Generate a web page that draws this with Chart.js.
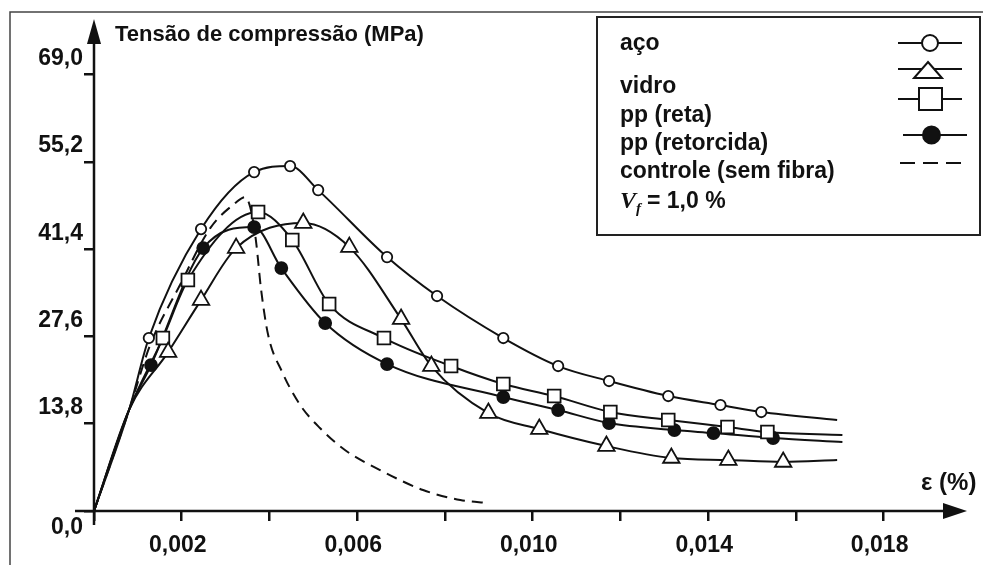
<!DOCTYPE html>
<html>
<head>
<meta charset="utf-8">
<script src="https://cdn.jsdelivr.net/npm/chart.js@4/dist/chart.umd.min.js"></script>
<style>
  html, body { margin: 0; padding: 0; background: #fff; }
  #wrap { width: 983px; height: 565px; position: relative; }
</style>
</head>
<body>
<div id="wrap"><canvas id="c" width="983" height="565"></canvas></div>
<script>
// ---- data: strain ε (%) vs compressive stress (MPa) ----
const seriesLabels = ['aço', 'vidro', 'pp (reta)', 'pp (retorcida)', 'controle (sem fibra)'];

const acoStrain = [0, 0.0008, 0.00125, 0.00244, 0.00365, 0.00447, 0.00511, 0.00668, 0.00782, 0.00933, 0.01058, 0.01174, 0.01309, 0.01428, 0.01521, 0.01694];
const acoStress = [0, 16.0, 27.35, 44.58, 53.59, 54.54, 50.74, 40.15, 33.99, 27.35, 22.92, 20.55, 18.18, 16.76, 15.65, 14.39];
const acoMarked = [0, 0, 1, 1, 1, 1, 1, 1, 1, 1, 1, 1, 1, 1, 1, 0];

const vidroStrain = [0, 0.0008, 0.00169, 0.00244, 0.00324, 0.00477, 0.00582, 0.00700, 0.00769, 0.00899, 0.01015, 0.01168, 0.01316, 0.01446, 0.01571, 0.01694];
const vidroStress = [0, 16.0, 25.13, 33.35, 41.57, 45.53, 41.73, 30.35, 22.92, 15.49, 12.96, 10.27, 8.38, 8.06, 7.75, 8.06];
const vidroMarked = [0, 0, 1, 1, 1, 1, 1, 1, 1, 1, 1, 1, 1, 1, 1, 0];

const retaStrain = [0, 0.0008, 0.00157, 0.00214, 0.00374, 0.00452, 0.00536, 0.00661, 0.00814, 0.00933, 0.01049, 0.01177, 0.01309, 0.01444, 0.01535, 0.01706];
const retaStress = [0, 16.0, 27.35, 36.52, 47.27, 42.84, 32.72, 27.35, 22.92, 20.08, 18.18, 15.65, 14.39, 13.28, 12.49, 12.01];
const retaMarked = [0, 0, 1, 1, 1, 1, 1, 1, 1, 1, 1, 1, 1, 1, 1, 0];

const retorcidaStrain = [0, 0.0008, 0.00130, 0.00249, 0.00365, 0.00427, 0.00527, 0.00668, 0.00933, 0.01058, 0.01174, 0.01323, 0.01412, 0.01548, 0.01706];
const retorcidaStress = [0, 16.0, 23.08, 41.57, 44.89, 38.41, 29.72, 23.24, 18.02, 15.97, 13.91, 12.80, 12.33, 11.54, 10.91];
const retorcidaMarked = [0, 0, 1, 1, 1, 1, 1, 1, 1, 1, 1, 1, 1, 1, 0];

const controleStrain = [0, 0.0008, 0.00128, 0.00196, 0.00265, 0.00322, 0.00344, 0.00356, 0.00369, 0.00381, 0.00397, 0.00429, 0.00470, 0.00515, 0.00572, 0.00652, 0.00750, 0.00835, 0.00899];
const controleStress = [0, 16.0, 26.24, 35.73, 44.74, 48.69, 49.64, 48.06, 42.84, 34.94, 27.82, 21.97, 16.76, 13.12, 9.64, 6.48, 3.32, 1.74, 1.26];

// ---- axis ticks ----
const xTickValues = [0, 0.002, 0.004, 0.006, 0.008, 0.010, 0.012, 0.014, 0.016, 0.018];
const xTickLabels = ['', '0,002', '', '0,006', '', '0,010', '', '0,014', '', '0,018'];
const yTickValues = [0, 13.8, 27.6, 41.4, 55.2, 69.0];
const yTickLabels = ['0,0', '13,8', '27,6', '41,4', '55,2', '69,0'];
const yAxisTitle = 'Tensão de compressão (MPa)';
const xAxisTitle = 'ε (%)';
const fiberNote = ['V', 'f', '= 1,0 %'];

// ---- helpers ----
const FAM = '"Liberation Sans", Arial, Helvetica, sans-serif';
const INK = '#111';
function pts(xs, ys) { return xs.map((x, i) => ({ x: x, y: ys[i] })); }
function radiusFrom(marked, r) { return (c) => (marked[c.dataIndex] ? r : 0); }

const baseDs = {
  borderColor: INK, borderWidth: 2, fill: false,
  cubicInterpolationMode: 'monotone',
  pointBorderColor: INK, pointBorderWidth: 1.8,
  pointHoverRadius: 0
};

const datasets = [
  Object.assign({}, baseDs, { label: seriesLabels[0], data: pts(acoStrain, acoStress),
    pointStyle: 'circle', pointRadius: radiusFrom(acoMarked, 5.2), pointBackgroundColor: '#fff' }),
  Object.assign({}, baseDs, { label: seriesLabels[1], data: pts(vidroStrain, vidroStress),
    pointStyle: 'triangle', pointRadius: radiusFrom(vidroMarked, 9.5), pointBackgroundColor: '#fff' }),
  Object.assign({}, baseDs, { label: seriesLabels[2], data: pts(retaStrain, retaStress),
    pointStyle: 'rect', pointRadius: radiusFrom(retaMarked, 9), pointBackgroundColor: '#fff' }),
  Object.assign({}, baseDs, { label: seriesLabels[3], data: pts(retorcidaStrain, retorcidaStress),
    pointStyle: 'circle', pointRadius: radiusFrom(retorcidaMarked, 6), pointBackgroundColor: INK }),
  Object.assign({}, baseDs, { label: seriesLabels[4], data: pts(controleStrain, controleStress),
    pointRadius: 0, borderDash: [11, 7] })
];

// ---- decorations: frame, arrowed axes, axis titles, legend ----
const figurePlugin = {
  id: 'figure',
  beforeDraw(chart) {
    const ctx = chart.ctx;
    ctx.save();
    ctx.strokeStyle = '#444';
    ctx.lineWidth = 1.5;
    ctx.beginPath();
    ctx.moveTo(10, 565); ctx.lineTo(10, 12); ctx.lineTo(983, 12);
    ctx.stroke();
    ctx.restore();
  },
  beforeDatasetsDraw(chart) {
    const ctx = chart.ctx;
    const xs = chart.scales.x, ys = chart.scales.y;
    const x0 = xs.getPixelForValue(0), y0 = ys.getPixelForValue(0);
    const xEnd = chart.chartArea.right, yEnd = chart.chartArea.top;
    ctx.save();
    ctx.strokeStyle = INK; ctx.fillStyle = INK; ctx.lineWidth = 2.5;
    ctx.beginPath();
    ctx.moveTo(x0 - 19, y0); ctx.lineTo(xEnd - 20, y0);
    ctx.moveTo(x0, y0 + 14); ctx.lineTo(x0, yEnd + 22);
    ctx.stroke();
    // arrow heads
    ctx.beginPath();
    ctx.moveTo(xEnd, y0); ctx.lineTo(xEnd - 24, y0 - 8); ctx.lineTo(xEnd - 24, y0 + 8); ctx.closePath();
    ctx.fill();
    ctx.beginPath();
    ctx.moveTo(x0, yEnd); ctx.lineTo(x0 - 7, yEnd + 25); ctx.lineTo(x0 + 7, yEnd + 25); ctx.closePath();
    ctx.fill();
    // axis titles
    ctx.textAlign = 'left'; ctx.textBaseline = 'alphabetic';
    ctx.font = 'bold 22px ' + FAM;
    ctx.fillText(yAxisTitle, x0 + 21, 41);
    ctx.font = 'bold 24px ' + FAM;
    ctx.fillText(xAxisTitle, 921, y0 - 21);
    ctx.restore();
  },
  afterDraw(chart) {
    const ctx = chart.ctx;
    ctx.save();
    // legend box
    ctx.fillStyle = '#fff';
    ctx.fillRect(597, 17, 383, 218);
    ctx.strokeStyle = '#222'; ctx.lineWidth = 2;
    ctx.strokeRect(597, 17, 383, 218);

    const textBase = [50, 93, 122, 150, 178];
    const symY = [43, 69, 99, 135, 163];
    ctx.fillStyle = INK;
    ctx.font = 'bold 23px ' + FAM;
    ctx.textAlign = 'left'; ctx.textBaseline = 'alphabetic';
    chart.data.datasets.forEach((ds, i) => {
      ctx.fillStyle = INK;
      ctx.fillText(ds.label, 620, textBase[i]);
      const y = symY[i];
      ctx.strokeStyle = INK; ctx.lineWidth = 2;
      ctx.setLineDash(ds.borderDash ? [15, 8] : []);
      const x1 = (ds.pointBackgroundColor === INK) ? 903 : (ds.borderDash ? 900 : 898);
      const x2 = (ds.pointBackgroundColor === INK) ? 967 : 962;
      ctx.beginPath(); ctx.moveTo(x1, y); ctx.lineTo(x2, y); ctx.stroke();
      ctx.setLineDash([]);
      ctx.fillStyle = ds.pointBackgroundColor || '#fff';
      ctx.beginPath();
      if (ds.borderDash) return;
      if (ds.pointStyle === 'circle' && ds.pointBackgroundColor === INK) {
        ctx.arc(931.5, y, 8.5, 0, Math.PI * 2);
      } else if (ds.pointStyle === 'circle') {
        ctx.arc(930, y, 8, 0, Math.PI * 2);
      } else if (ds.pointStyle === 'triangle') {
        ctx.moveTo(928, y - 7); ctx.lineTo(942, y + 9); ctx.lineTo(914, y + 9); ctx.closePath();
      } else if (ds.pointStyle === 'rect') {
        ctx.rect(919, y - 11, 23, 22);
      }
      ctx.fill(); ctx.stroke();
    });
    // V_f = 1,0 %
    ctx.fillStyle = INK;
    ctx.font = 'italic bold 24px "Liberation Serif", "Times New Roman", serif';
    ctx.fillText(fiberNote[0], 620, 208);
    ctx.font = 'italic bold 15px "Liberation Serif", "Times New Roman", serif';
    ctx.fillText(fiberNote[1], 636, 213);
    ctx.font = 'bold 23px ' + FAM;
    ctx.fillText(fiberNote[2], 647, 208);
    ctx.restore();
  }
};

new Chart(document.getElementById('c'), {
  type: 'line',
  data: { datasets: datasets },
  plugins: [figurePlugin],
  options: {
    responsive: false,
    animation: false,
    events: [],
    layout: { padding: { top: 19, right: 16, left: 0, bottom: 0 } },
    plugins: { legend: { display: false }, title: { display: false }, tooltip: { enabled: false } },
    scales: {
      x: {
        type: 'linear', min: 0, max: 0.0199,
        afterBuildTicks: (s) => { s.ticks = xTickValues.map(v => ({ value: v })); },
        afterFit: (s) => { s.height = 54; },
        border: { display: false },
        grid: { display: true, drawOnChartArea: false, drawTicks: true, tickLength: 10, color: INK, lineWidth: 2.5 },
        ticks: {
          autoSkip: false, maxRotation: 0, minRotation: 0, padding: 11, labelOffset: -4, color: INK,
          font: { family: FAM, size: 23, weight: 'bold', lineHeight: 1.2 },
          callback: (v, i) => xTickLabels[i]
        }
      },
      y: {
        type: 'linear', min: 0, max: 77.8,
        afterBuildTicks: (s) => { s.ticks = yTickValues.map(v => ({ value: v })); },
        afterFit: (s) => { s.width = 94; },
        border: { display: false },
        grid: { display: true, drawOnChartArea: false, drawTicks: true, tickLength: 10, color: INK, lineWidth: 2.5 },
        ticks: {
          autoSkip: false, padding: 1, labelOffset: -16, color: INK,
          font: { family: FAM, size: 23, weight: 'bold', lineHeight: 0.942 },
          callback: (v, i) => (i === 0 ? ['', '', '', yTickLabels[0]] : yTickLabels[i])
        }
      }
    }
  }
});
</script>
</body>
</html>
